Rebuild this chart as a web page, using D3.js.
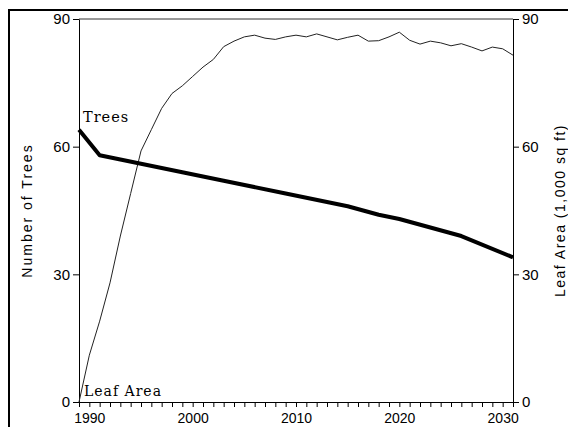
<!DOCTYPE html>
<html>
<head>
<meta charset="utf-8">
<script src="https://cdn.jsdelivr.net/npm/d3@7"></script>
<style>
  html, body { margin: 0; padding: 0; background: #fff; }
  svg { display: block; }
  .tick text { font-family: "Liberation Sans", Arial, sans-serif; fill: #000; }
  .y-axis .tick text { font-size: 15px; }
  .x-axis .tick text { font-size: 14px; }
  .domain, .tick line { stroke: #000; }
</style>
</head>
<body>
<svg id="chart" width="568" height="427"></svg>
<script>
// Tree count over time (breakpoints of the projection)
const treeYears  = [1989, 1991, 1995, 1999, 2003, 2009, 2015, 2018, 2020, 2026, 2031];
const treeCounts = [64,   58,   56,   54,   52,   49,   46,   44,   43,   39,   34];

// Leaf area, thousand sq ft, by year
const leafYears = d3.range(1989, 2032);
const leafArea = [
  0, 11, 19, 28, 39, 49, 59, 64, 69, 72.5,
  74.3, 76.5, 78.7, 80.5, 83.5, 84.8, 85.8, 86.2, 85.5, 85.2,
  85.8, 86.2, 85.8, 86.5, 85.8, 85.1, 85.7, 86.2, 84.8, 84.9,
  85.8, 86.9, 85.0, 84.1, 84.8, 84.4, 83.7, 84.2, 83.4, 82.5,
  83.4, 83.0, 81.5
];

const xTicks = [1990, 2000, 2010, 2020, 2030];
const yTicks = [0, 30, 60, 90];

const svg = d3.select("#chart");

const x = d3.scaleLinear().domain([1989, 2031]).range([79, 513]);
const y = d3.scaleLinear().domain([0, 90]).range([402, 19]);

// outer frame
svg.append("rect")
  .attr("x", 9).attr("y", 10)
  .attr("width", 600).attr("height", 460)
  .attr("fill", "none").attr("stroke", "#000").attr("stroke-width", 2);

// plot frame top
svg.append("line")
  .attr("x1", x(1989)).attr("x2", x(2031))
  .attr("y1", y(90)).attr("y2", y(90))
  .attr("stroke", "#333").attr("stroke-width", 1);

// bottom axis with yearly ticks
const xAxis = d3.axisBottom(x)
  .tickValues(d3.range(1989, 2032))
  .tickSize(5)
  .tickSizeOuter(0)
  .tickFormat(d => xTicks.includes(d) ? String(d) : "");
svg.append("g")
  .attr("class", "x-axis")
  .attr("transform", `translate(0,${y(0)})`)
  .call(xAxis)
  .call(g => g.selectAll(".tick text").attr("dy", "0.9em"));

// left axis
svg.append("g")
  .attr("class", "y-axis")
  .attr("transform", `translate(${x(1989)},0)`)
  .call(d3.axisLeft(y).tickValues(yTicks).tickSize(6).tickSizeOuter(0).tickPadding(3));

// right axis
svg.append("g")
  .attr("class", "y-axis")
  .attr("transform", `translate(${x(2031)},0)`)
  .call(d3.axisRight(y).tickValues(yTicks).tickSize(6).tickSizeOuter(0).tickPadding(3));

const line = d3.line().x(d => x(d[0])).y(d => y(d[1]));

// leaf area curve
svg.append("path")
  .datum(leafYears.map((yr, i) => [yr, leafArea[i]]))
  .attr("d", line)
  .attr("fill", "none")
  .attr("stroke", "#222")
  .attr("stroke-width", 1);

// tree count curve
svg.append("path")
  .datum(treeYears.map((yr, i) => [yr, treeCounts[i]]))
  .attr("d", line)
  .attr("fill", "none")
  .attr("stroke", "#000")
  .attr("stroke-width", 4)
  .attr("stroke-linejoin", "round");

// series labels
svg.append("text")
  .attr("x", 83).attr("y", 122)
  .attr("font-family", "DejaVu Serif, serif")
  .attr("font-size", 14.5).attr("letter-spacing", 1)
  .text("Trees");
svg.append("text")
  .attr("x", 84).attr("y", 396)
  .attr("font-family", "DejaVu Serif, serif")
  .attr("font-size", 14).attr("letter-spacing", 1)
  .text("Leaf Area");

// axis titles
svg.append("text")
  .attr("transform", `translate(32,${(y(0) + y(90)) / 2}) rotate(-90)`)
  .attr("text-anchor", "middle")
  .attr("font-family", "Liberation Sans, Arial, sans-serif")
  .attr("font-size", 14).attr("letter-spacing", 2)
  .text("Number of Trees");
svg.append("text")
  .attr("transform", `translate(565,${(y(0) + y(90)) / 2}) rotate(-90)`)
  .attr("text-anchor", "middle")
  .attr("font-family", "Liberation Sans, Arial, sans-serif")
  .attr("font-size", 14).attr("letter-spacing", 1.5)
  .text("Leaf Area (1,000 sq ft)");
</script>
</body>
</html>
